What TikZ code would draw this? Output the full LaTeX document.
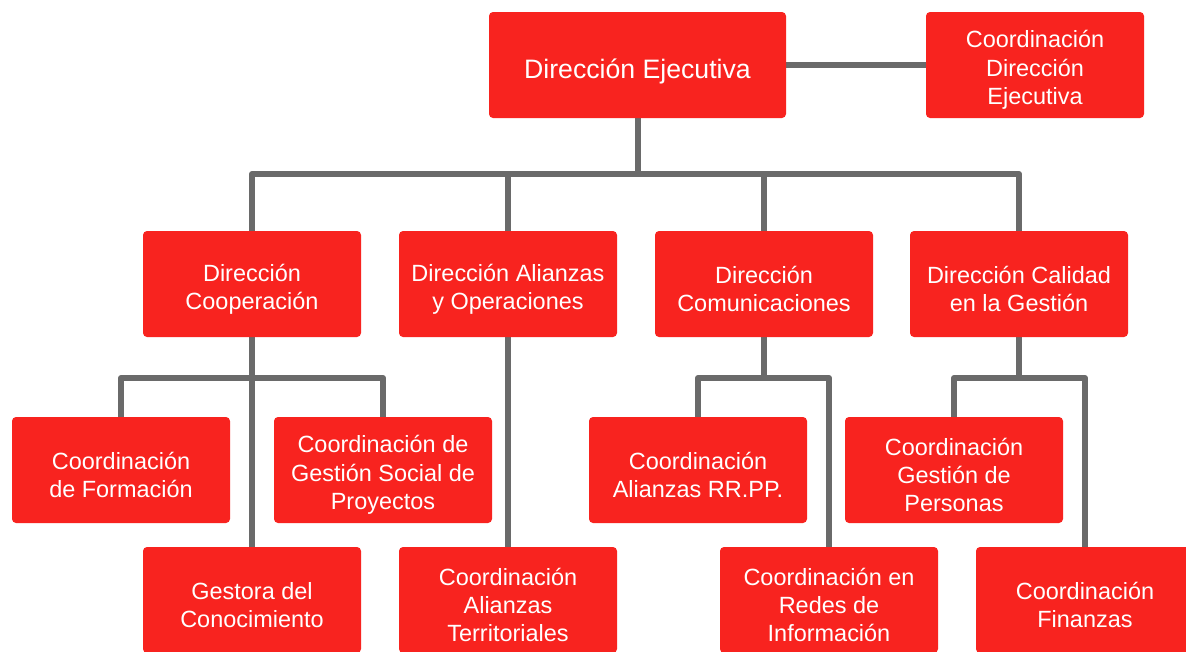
\documentclass[tikz,border=0pt]{standalone}
\usepackage{fontspec}
\setmainfont{Liberation Sans}
\usetikzlibrary{backgrounds}
\definecolor{boxred}{HTML}{F8231F}
\definecolor{linegray}{HTML}{6A6A6A}
\tikzset{
  orgbox/.style={fill=boxred, rounded corners=3pt, inner sep=0pt,
    minimum width=163.5pt, minimum height=79.5pt},
  boxtext/.style={text=white, inner sep=0pt, align=center, yshift=-3.75pt,
    font=\fontsize{17.6}{21.3}\selectfont},
  bigtext/.style={boxtext, yshift=-0.75pt, font=\fontsize{20}{24}\selectfont},
  link/.style={draw=linegray, line width=4.5pt, line join=round}
}
\begin{document}
\begin{tikzpicture}[x=0.75pt,y=-0.75pt]
\useasboundingbox (0,0) rectangle (1186,651);
% level 1
\node[orgbox, minimum width=222.75pt, label={[bigtext]center:{Dirección Ejecutiva}}] (de) at (637.5,65) {};
\node[orgbox, label={[boxtext]center:{Coordinación\\Dirección\\Ejecutiva}}] (cde) at (1035,65) {};
% level 2
\node[orgbox, label={[boxtext]center:{Dirección\\Cooperación}}] (coop) at (252,284) {};
\node[orgbox, label={[boxtext]center:{Dirección Alianzas\\y Operaciones}}] (ali) at (508,284) {};
\node[orgbox, label={[boxtext]center:{Dirección\\Comunicaciones}}] (com) at (764,284) {};
\node[orgbox, label={[boxtext]center:{Dirección Calidad\\en la Gestión}}] (cal) at (1019,284) {};
% level 3
\node[orgbox, label={[boxtext]center:{Coordinación\\de Formación}}] (form) at (121,470) {};
\node[orgbox, label={[boxtext]center:{Coordinación de\\Gestión Social de\\Proyectos}}] (gsp) at (383,470) {};
\node[orgbox, label={[boxtext]center:{Coordinación\\Alianzas RR.PP.}}] (rrpp) at (698,470) {};
\node[orgbox, label={[boxtext]center:{Coordinación\\Gestión de\\Personas}}] (gper) at (954,470) {};
% level 4
\node[orgbox, label={[boxtext]center:{Gestora del\\Conocimiento}}] (gest) at (252,600) {};
\node[orgbox, label={[boxtext]center:{Coordinación\\Alianzas\\Territoriales}}] (terr) at (508,600) {};
\node[orgbox, label={[boxtext]center:{Coordinación en\\Redes de\\Información}}] (redes) at (829,600) {};
\node[orgbox, label={[boxtext]center:{Coordinación\\Finanzas}}] (fin) at (1085,600) {};
% junction points
\coordinate (b1) at (637.5,174);
\coordinate (b2) at (252,378);
\coordinate (b3) at (764,378);
\coordinate (b4) at (1019,378);
\begin{scope}[on background layer]
\draw[link] (de.east) -- (cde.west);
\draw[link] (de.south) -- (b1);
\draw[link] (coop.north) |- (b1) -| (cal.north);
\draw[link] (ali.north) -- (ali.north |- b1);
\draw[link] (com.north) -- (com.north |- b1);
\draw[link] (coop.south) -- (gest.north);
\draw[link] (form.north) |- (b2) -| (gsp.north);
\draw[link] (ali.south) -- (terr.north);
\draw[link] (com.south) -- (b3);
\draw[link] (rrpp.north) |- (b3) -| (redes.north);
\draw[link] (cal.south) -- (b4);
\draw[link] (gper.north) |- (b4) -| (fin.north);
\end{scope}
\end{tikzpicture}
\end{document}
